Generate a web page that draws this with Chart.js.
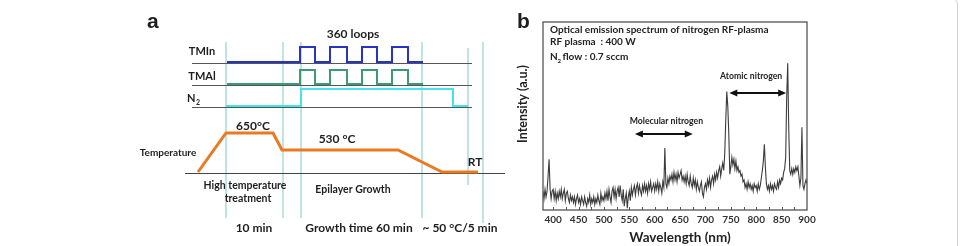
<!DOCTYPE html>
<html>
<head>
<meta charset="utf-8">
<script src="https://cdn.jsdelivr.net/npm/chart.js@4.4.1/dist/chart.umd.min.js"></script>
<style>
  html, body { margin: 0; padding: 0; background: #fff; }
  body { width: 961px; height: 246px; position: relative; overflow: hidden; }
  .box { position: absolute; top: 0; height: 246px; }
  #frame { position: absolute; left: -20px; top: -5px; width: 976px; height: 280px;
           border: 1px solid #d0d0d0; border-radius: 10px; }
</style>
</head>
<body>
<div id="frame"></div>
<div class="box" style="left:130px;width:380px"><canvas id="schemeChart"></canvas></div>
<div class="box" style="left:500px;width:330px"><canvas id="spectrumChart"></canvas></div>
<script>
const FONT = 'Lato, "Open Sans", sans-serif';

// ---- panel a: growth sequence (time in arbitrary units, rows in diagram units) ----
const phaseMarks = [226, 283, 301, 422, 468, 483];
const phaseMarkTop = [42, 42, 42, 42, 48, 42];
const phaseMarkBottom = [218, 218, 218, 218, 185, 223];
const pulseTimes = [227, 300, 315, 330, 347, 362, 377, 392, 408, 423];
const pulseStates = [0, 1, 0, 1, 0, 1, 0, 1, 0, 0];
const n2Times = [226, 301, 453, 468];
const n2States = [0, 1, 0, 0];
const tempTimes = [198, 226, 273, 282, 398, 442, 478];
const tempLevels = [172, 133, 133, 150, 150, 172, 172];

// ---- panel b: optical emission spectrum ----
const wlStart = 380;   // nm, 2 nm per sample
const wlStep = 2;
const intensity = [
  10, 6, 11, 7, 10, 18, 27, 11, 6, 10,
  11, 6, 10, 5, 9, 6, 10, 7, 11, 6,
  9, 11, 5, 9, 10, 6, 4, 8, 5, 7,
  4, 7, 3, 6, 8, 4, 6, 3, 7, 5,
  3, 7, 4, 2, 6, 4, 8, 3, 6, 4,
  7, 3, 6, 4, 8, 5, 3, 9, 5, 7,
  5, 9, 6, 10, 5, 11, 7, 4, 10, 12,
  7, 11, 6, 10, 12, 7, 13, 8, 5, 11,
  2, 6, 9, 1, 7, 10, 5, 12, 8, 11,
  13, 8, 12, 14, 9, 13, 10, 8, 13, 10,
  14, 10, 13, 9, 14, 11, 15, 10, 12, 14,
  10, 14, 11, 15, 10, 14, 12, 9, 15, 12,
  33, 14, 12, 17, 14, 18, 16, 19, 15, 20,
  16, 19, 15, 20, 17, 19, 21, 16, 18, 15,
  18, 14, 19, 15, 13, 18, 14, 12, 17, 13,
  16, 11, 15, 12, 10, 13, 15, 9, 7, 12,
  14, 11, 16, 13, 17, 12, 16, 18, 14, 19,
  16, 20, 17, 21, 23, 18, 22, 25, 21, 30,
  48, 63, 55, 40, 19, 23, 28, 24, 27, 22,
  26, 21, 23, 20, 21, 18, 19, 15, 16, 12,
  14, 11, 15, 12, 14, 11, 13, 10, 14, 12,
  13, 10, 14, 11, 13, 17, 21, 26, 35, 23,
  14, 11, 13, 10, 14, 11, 13, 10, 14, 12,
  11, 15, 12, 16, 14, 17, 16, 20, 22, 28,
  60, 78, 44, 21, 19, 22, 19, 22, 20, 23,
  21, 23, 18, 13, 17, 44, 13, 11, 14, 16,
  14
];
const xTickValues = [400, 450, 500, 550, 600, 650, 700, 750, 800, 850, 900];
const minorTicks = [400, 425, 450, 475, 500, 525, 550, 575, 600, 625, 650, 675, 700, 725, 750, 775, 800, 825, 850, 875];
const molecularRange = [561, 675];
const atomicRange = [747, 859];

function signal(times, states, low, high, color) {
  return {
    data: times.map((t, i) => ({ x: t, y: states[i] ? high : low })),
    borderColor: color, borderWidth: 2, stepped: true, pointRadius: 0
  };
}
function flat(x1, x2, y, color, w) {
  return { data: [{ x: x1, y: y }, { x: x2, y: y }], borderColor: color, borderWidth: w, pointRadius: 0 };
}

function text(ctx, str, x, y, size, align) {
  ctx.font = 'bold ' + size + 'px ' + FONT;
  ctx.textAlign = align || 'center';
  ctx.fillText(str, x, y);
}

const schemeLabels = {
  id: 'schemeLabels',
  afterDatasetsDraw(chart) {
    const { ctx, scales: { x, y } } = chart;
    const X = v => x.getPixelForValue(v), Y = v => y.getPixelForValue(v);
    ctx.save();
    ctx.fillStyle = '#1e1e1e';
    ctx.textBaseline = 'alphabetic';
    ctx.font = 'bold 21px "Liberation Sans", Arial, sans-serif';
    ctx.textAlign = 'left';
    ctx.fillText('a', X(147), Y(28));
    ctx.textBaseline = 'middle';
    text(ctx, '360 loops', X(353), Y(34), 12);
    text(ctx, 'TMIn', X(202), Y(51), 11);
    text(ctx, 'TMAl', X(202), Y(76), 11);
    text(ctx, 'N', X(187), Y(98), 11, 'left');
    text(ctx, '2', X(196), Y(103), 7, 'left');
    text(ctx, '650\u00b0C', X(253), Y(126), 12);
    text(ctx, '530 \u00b0C', X(337), Y(139), 12);
    text(ctx, 'Temperature', X(168), Y(153), 10);
    text(ctx, 'RT', X(475), Y(162), 12);
    text(ctx, 'High temperature', X(245), Y(186), 10.5);
    text(ctx, 'treatment', X(248), Y(199), 10.5);
    text(ctx, 'Epilayer Growth', X(353), Y(190), 10.5);
    text(ctx, '10 min', X(254), Y(228), 12);
    text(ctx, 'Growth time 60 min', X(359), Y(228), 12);
    text(ctx, '~ 50 \u00b0C/5 min', X(460), Y(228), 12);
    ctx.restore();
  }
};

const schemeDatasets = [
  signal(pulseTimes, pulseStates, 62, 47, '#2733c4'),
  signal(pulseTimes, pulseStates, 84, 70, '#3c9b70'),
  signal(n2Times, n2States, 106, 89, '#45e3ea'),
  { data: tempTimes.map((t, i) => ({ x: t, y: tempLevels[i] })), borderColor: '#ea7a22', borderWidth: 3, pointRadius: 0 },
  flat(192, 472, 63.5, '#555', 1),
  flat(192, 472, 85.5, '#555', 1),
  flat(192, 472, 107.5, '#555', 1),
  flat(185, 505, 173.5, '#444', 1),
  ...phaseMarks.map((t, i) => ({
    data: [{ x: t, y: phaseMarkTop[i] }, { x: t, y: phaseMarkBottom[i] }],
    borderColor: '#acdcdc', borderWidth: 1.5, pointRadius: 0
  }))
];

new Chart(document.getElementById('schemeChart'), {
  type: 'line',
  data: { datasets: schemeDatasets },
  options: {
    responsive: true,
    maintainAspectRatio: false,
    animation: false,
    layout: { padding: 0 },
    plugins: { legend: { display: false }, tooltip: { enabled: false } },
    scales: {
      x: { type: 'linear', display: false, min: 130, max: 510 },
      y: { type: 'linear', display: false, min: 0, max: 246, reverse: true }
    }
  },
  plugins: [schemeLabels]
});

function arrow(ctx, x1, x2, y) {
  ctx.beginPath();
  ctx.moveTo(x1 + 5, y); ctx.lineTo(x2 - 5, y); ctx.stroke();
  ctx.beginPath();
  ctx.moveTo(x1, y); ctx.lineTo(x1 + 8, y - 3.5); ctx.lineTo(x1 + 8, y + 3.5); ctx.closePath();
  ctx.moveTo(x2, y); ctx.lineTo(x2 - 8, y - 3.5); ctx.lineTo(x2 - 8, y + 3.5); ctx.closePath();
  ctx.fill();
}

const spectrumDecor = {
  id: 'spectrumDecor',
  afterDraw(chart) {
    const { ctx, chartArea: a, scales: { x, y } } = chart;
    ctx.save();
    ctx.strokeStyle = '#555';
    ctx.lineWidth = 1.3;
    ctx.strokeRect(a.left, a.top, a.right - a.left, a.bottom - a.top);
    ctx.lineWidth = 1;
    minorTicks.forEach(v => {
      const px = Math.round(x.getPixelForValue(v)) + 0.5;
      ctx.beginPath(); ctx.moveTo(px, a.bottom); ctx.lineTo(px, a.bottom - 3); ctx.stroke();
    });

    ctx.fillStyle = '#1e1e1e';
    ctx.textBaseline = 'alphabetic';
    ctx.font = 'bold 21px "Liberation Sans", Arial, sans-serif';
    ctx.textAlign = 'left';
    ctx.fillText('b', 17, 28);

    ctx.textBaseline = 'middle';
    ctx.fillStyle = '#222';
    text(ctx, 'Optical emission spectrum of nitrogen RF-plasma', a.left + 7, a.top + 8, 10, 'left');
    text(ctx, 'RF plasma  : 400 W', a.left + 7, a.top + 20, 10, 'left');
    text(ctx, 'N', a.left + 7, a.top + 35, 10, 'left');
    text(ctx, '2', a.left + 14.5, a.top + 39.5, 6, 'left');
    text(ctx, ' flow : 0.7 sccm', a.left + 17, a.top + 35, 10, 'left');

    text(ctx, 'Molecular nitrogen', x.getPixelForValue(623), y.getPixelForValue(47.3), 8.7);
    text(ctx, 'Atomic nitrogen', x.getPixelForValue(790), y.getPixelForValue(71.3), 8.7);
    ctx.fillStyle = '#111';
    ctx.strokeStyle = '#111';
    ctx.lineWidth = 2;
    arrow(ctx, x.getPixelForValue(molecularRange[0]), x.getPixelForValue(molecularRange[1]), Math.round(y.getPixelForValue(40.4)));
    arrow(ctx, x.getPixelForValue(atomicRange[0]), x.getPixelForValue(atomicRange[1]), Math.round(y.getPixelForValue(62.2)));

    ctx.fillStyle = '#222';
    text(ctx, 'Wavelength (nm)', 180, 238, 13.5);
    ctx.translate(23, 104);
    ctx.rotate(-Math.PI / 2);
    text(ctx, 'Intensity (a.u.)', 0, 0, 12.5);
    ctx.restore();
  }
};

new Chart(document.getElementById('spectrumChart'), {
  type: 'line',
  data: {
    datasets: [{
      data: intensity.map((v, i) => ({ x: wlStart + i * wlStep, y: v })),
      borderColor: '#3c3c3c',
      borderWidth: 1.1,
      pointRadius: 0,
      tension: 0
    }]
  },
  options: {
    responsive: true,
    maintainAspectRatio: false,
    animation: false,
    layout: { padding: { top: 22, right: 23, left: 0, bottom: 0 } },
    plugins: { legend: { display: false }, tooltip: { enabled: false } },
    scales: {
      x: {
        type: 'linear', min: 380, max: 900,
        afterBuildTicks: s => { s.ticks = xTickValues.map(v => ({ value: v })); },
        afterFit: s => { s.height = 36; },
        grid: { display: false, drawTicks: false },
        border: { display: false },
        ticks: { font: { family: FONT, size: 10, weight: 'bold' }, color: '#333', padding: 4, maxRotation: 0, autoSkip: false }
      },
      y: {
        min: 0, max: 100,
        afterFit: s => { s.width = 43; },
        grid: { display: false, drawTicks: false },
        border: { display: false },
        ticks: { display: false }
      }
    }
  },
  plugins: [spectrumDecor]
});
</script>
</body>
</html>
